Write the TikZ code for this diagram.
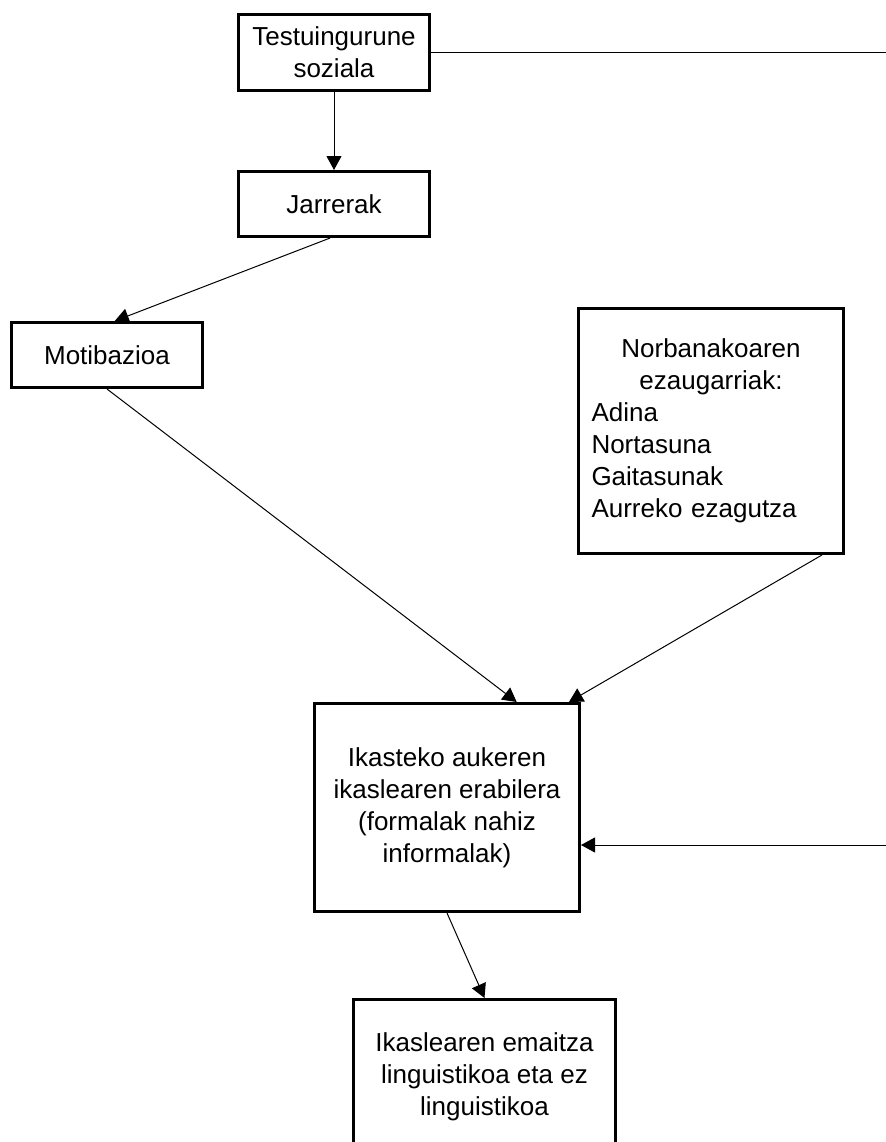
\documentclass[tikz,border=0pt]{standalone}
\usepackage{fontspec}
\setmainfont{Liberation Sans}
\usetikzlibrary{arrows.meta,calc}

\begin{document}
\begin{tikzpicture}[x=0.5pt,y=-0.5pt,
  box/.style={draw,line width=1.5pt,align=center,inner sep=0pt,
    font=\fontsize{13pt}{16pt}\selectfont},
  link/.style={line width=0.5pt,-{Triangle[length=7pt,width=7.5pt]}}]
\useasboundingbox (0,0) rectangle (885,1142);
\node[box,minimum width=95.5pt,minimum height=38pt] (ctx) at (334,52.5) {Testuingurune\\soziala};
\node[box,minimum width=95.5pt,minimum height=32.5pt] (jar) at (334,204) {Jarrerak};
\node[box,minimum width=95.5pt,minimum height=32.5pt] (mot) at (107,355) {Motibazioa};
\node[box,minimum width=132.5pt,minimum height=122.5pt,text width=119.5pt,align=left] (norb) at (711,431)
  {{\centering Norbanakoaren\\ezaugarriak:\par}Adina\\Nortasuna\\Gaitasunak\\Aurreko ezagutza};
\node[box,minimum width=132.5pt,minimum height=104pt] (ika) at (447,807.5)
  {Ikasteko aukeren\\ikaslearen erabilera\\(formalak nahiz\\informalak)};
\node[box,minimum width=131pt,minimum height=77pt] (res) at (484.5,1076.5)
  {Ikaslearen emaitza\\linguistikoa eta ez\\linguistikoa};
% lines running off the right edge
\coordinate (edgeA) at (900,52.5);
\coordinate (edgeB) at (900,845);
\draw[line width=0.5pt] (ctx.east) -- (edgeA);
\draw[link] (edgeB) -- (edgeB -| ika.east);
% arrows
\draw[link] (ctx.south) -- (jar.north);
\draw[link] ($(jar.south west)!0.48!(jar.south east)$) -- ($(mot.north west)!0.54!(mot.north east)$);
\draw[link] (mot.south) -- ($(ika.north west)!0.76!(ika.north east)$);
\draw[link] ($(norb.south west)!0.914!(norb.south east)$) -- ($(ika.north west)!0.955!(ika.north east)$);
\draw[link] (ika.south) -- (res.north);
\end{tikzpicture}
\end{document}
